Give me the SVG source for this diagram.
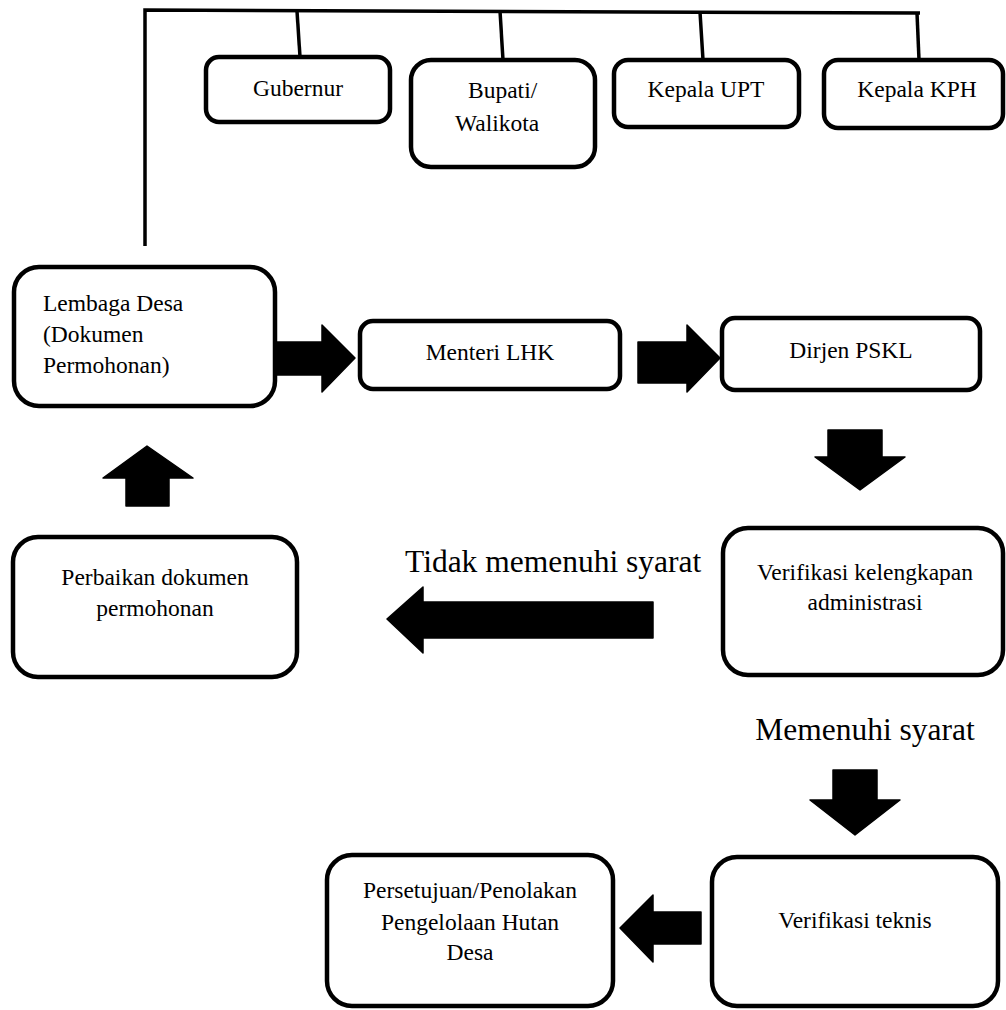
<svg xmlns="http://www.w3.org/2000/svg" width="1006" height="1010" viewBox="0 0 1006 1010">
<style>
.box{fill:#fff;stroke:#000;stroke-width:4.5}
.t{font-family:"Liberation Serif","Times New Roman",serif;font-size:23.5px;fill:#000}
.c{text-anchor:middle}
.big{font-family:"Liberation Serif","Times New Roman",serif;font-size:31.5px;fill:#000}
.ln{stroke:#000;stroke-width:3.5;fill:none}
.ar{fill:#000;stroke:#000;stroke-width:1.5;stroke-linejoin:round}
</style>
<rect width="1006" height="1010" fill="#fff"/>
<g id="connectors">
<path class="ln" d="M145,246 L145,10 L920,13"/>
<line class="ln" x1="297" y1="11" x2="300" y2="57"/>
<line class="ln" x1="500" y1="11" x2="503" y2="60"/>
<line class="ln" x1="700" y1="12" x2="703" y2="60"/>
<line class="ln" x1="917" y1="13" x2="919" y2="60"/>
<polygon class="ar" points="275,342 322,342 322,325 355,358 322,392 322,375 275,375"/>
<polygon class="ar" points="638,342 687,342 687,325 720,358 687,392 687,383 638,383"/>
<polygon class="ar" points="828,430 882,430 882,457 905,457 860,490 815,457 828,457"/>
<polygon class="ar" points="126,506 126,478 103,478 147,446 193,478 169,478 169,506"/>
<polygon class="ar" points="653,602 653,638 423,638 423,653 387,619 423,587 423,602"/>
<polygon class="ar" points="833,770 877,770 877,800 900,800 855,835 810,800 833,800"/>
<polygon class="ar" points="701,912 701,944 653,944 653,962 620,928 653,895 653,912"/>
</g>
<g id="gubernur">
<rect class="box" x="206" y="57" width="184" height="65" rx="13"/>
<text class="t c" x="298" y="96">Gubernur</text>
</g>
<g id="bupati">
<rect class="box" x="411" y="60" width="184" height="107" rx="20"/>
<text class="t" x="468" y="98">Bupati/</text>
<text class="t" x="455" y="131">Walikota</text>
</g>
<g id="kepala-upt">
<rect class="box" x="614" y="60" width="185" height="67" rx="14"/>
<text class="t c" x="706" y="97">Kepala UPT</text>
</g>
<g id="kepala-kph">
<rect class="box" x="824" y="60" width="179" height="68" rx="14"/>
<text class="t c" x="917" y="97">Kepala KPH</text>
</g>
<g id="lembaga-desa">
<rect class="box" x="14" y="267" width="261" height="139" rx="25"/>
<text class="t" x="43" y="311">Lembaga Desa</text>
<text class="t" x="43" y="342">(Dokumen</text>
<text class="t" x="43" y="373">Permohonan)</text>
</g>
<g id="menteri-lhk">
<rect class="box" x="360" y="321" width="260" height="68" rx="13"/>
<text class="t c" x="490" y="360">Menteri LHK</text>
</g>
<g id="dirjen-pskl">
<rect class="box" x="722" y="318" width="258" height="72" rx="13"/>
<text class="t c" x="851" y="358">Dirjen PSKL</text>
</g>
<g id="perbaikan">
<rect class="box" x="13" y="537" width="284" height="140" rx="25"/>
<text class="t c" x="155" y="585">Perbaikan dokumen</text>
<text class="t c" x="155" y="616">permohonan</text>
</g>
<g id="label-tidak">
<text class="big" x="405" y="572">Tidak memenuhi syarat</text>
</g>
<g id="verifikasi-administrasi">
<rect class="box" x="723" y="528" width="280" height="147" rx="25"/>
<text class="t c" x="865" y="580">Verifikasi kelengkapan</text>
<text class="t c" x="865" y="610">administrasi</text>
</g>
<g id="label-memenuhi">
<text class="big c" x="865" y="740">Memenuhi syarat</text>
</g>
<g id="persetujuan">
<rect class="box" x="327" y="855" width="286" height="151" rx="25"/>
<text class="t c" x="470" y="898">Persetujuan/Penolakan</text>
<text class="t c" x="470" y="930">Pengelolaan Hutan</text>
<text class="t c" x="470" y="960">Desa</text>
</g>
<g id="verifikasi-teknis">
<rect class="box" x="712" y="857" width="286" height="149" rx="25"/>
<text class="t c" x="855" y="928">Verifikasi teknis</text>
</g>
</svg>
